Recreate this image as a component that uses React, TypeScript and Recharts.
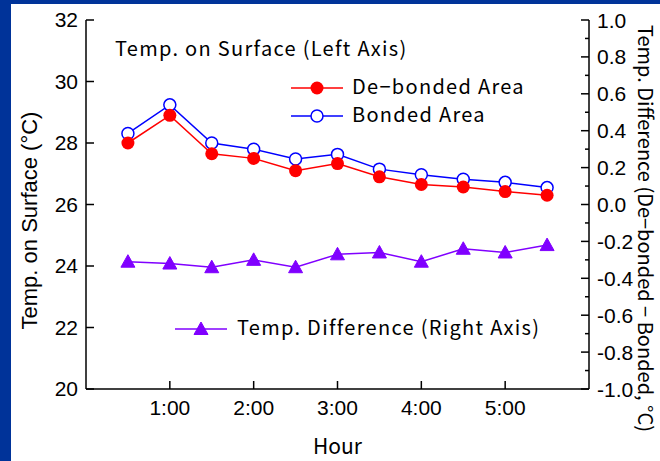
import React from "react"
import { ComposedChart, Line, XAxis, YAxis, Customized } from "recharts"

const hours = [0.5, 1, 1.5, 2, 2.5, 3, 3.5, 4, 4.5, 5, 5.5]
const debonded = [28.0, 28.9, 27.65, 27.5, 27.1, 27.33, 26.9, 26.65, 26.57, 26.42, 26.3]
const bonded = [28.31, 29.24, 28.0, 27.8, 27.48, 27.63, 27.15, 26.97, 26.82, 26.72, 26.55]
const tempDiff = [-0.31, -0.32, -0.34, -0.3, -0.34, -0.27, -0.26, -0.31, -0.24, -0.26, -0.22]

const hourTicks = [1, 2, 3, 4, 5]
const leftTicks = [20, 22, 24, 26, 28, 30, 32]
const rightTicks = [-1, -0.9, -0.8, -0.7, -0.6, -0.5, -0.4, -0.3, -0.2, -0.1, 0, 0.1, 0.2, 0.3, 0.4, 0.5, 0.6, 0.7, 0.8, 0.9, 1]

const RED = "#ff0000"
const BLUE = "#0000ff"
const PURPLE = "#8000ff"
const TICK_FONT = "'Liberation Sans', Arial, sans-serif"
const TEXT_FONT = "'Noto Sans CJK JP', 'Liberation Sans', sans-serif"

const data = hours.map((h, i) => ({
  hour: h,
  debonded: debonded[i],
  bonded: bonded[i],
  diff: tempDiff[i],
}))

const Triangle = ({ cx, cy }: any) => {
  if (cx == null || cy == null) return null
  return <polygon points={`${cx},${cy - 7} ${cx - 7},${cy + 5.5} ${cx + 7},${cy + 5.5}`} fill={PURPLE} stroke={PURPLE} />
}

// right axis: labels on even tenths, short minor ticks on odd ones
const RightTick = ({ x, y, payload }: any) => {
  const v = payload.value
  const major = Math.round(v * 10) % 2 === 0
  const ax = x - 8
  return (
    <g>
      <line x1={ax} x2={ax - (major ? 8 : 4)} y1={y} y2={y} stroke="#000" strokeWidth={1.5} />
      {major && (
        <text x={x} y={y} dy="0.36em" textAnchor="start" fontSize={21} fontFamily={TICK_FONT} fill="#000">
          {v.toFixed(1)}
        </text>
      )}
    </g>
  )
}

const LegendLayer = () => (
  <g fontFamily={TEXT_FONT} fontSize={20} fill="#000" letterSpacing={1.3}>
    <text x={104} y={45} dy="0.36em">Temp. on Surface (Left Axis)</text>
    <line x1={280} x2={332} y1={84} y2={84} stroke={RED} strokeWidth={1.5} />
    <circle cx={306} cy={84} r={6.5} fill={RED} />
    <text x={341} y={83} dy="0.36em">De−bonded Area</text>
    <line x1={280} x2={332} y1={112} y2={112} stroke={BLUE} strokeWidth={1.5} />
    <circle cx={306} cy={112} r={6} fill="#fff" stroke={BLUE} strokeWidth={1.5} />
    <text x={341} y={111} dy="0.36em">Bonded Area</text>
    <line x1={164} x2={216} y1={325} y2={325} stroke={PURPLE} strokeWidth={1.5} />
    <Triangle cx={190} cy={325} />
    <text x={226} y={324} dy="0.36em">Temp. Difference (Right Axis)</text>
  </g>
)

const axisStyle = { stroke: "#000", strokeWidth: 1.5 }
const tickStyle = { fontSize: 21, fontFamily: TICK_FONT, fill: "#000" }

export default function App() {
  return (
    <div style={{ position: "fixed", left: 0, top: 0, width: 660, height: 461, background: "#003399", overflow: "hidden" }}>
      <div style={{ position: "absolute", left: 11, top: 4, width: 649, height: 457, background: "#fff" }}>
        <ComposedChart width={649} height={457} data={data} margin={{ top: 16, right: 0, bottom: 0, left: 0 }}>
          <XAxis
            xAxisId="bottom"
            dataKey="hour"
            type="number"
            domain={[0, 6]}
            ticks={hourTicks}
            tickFormatter={(h) => `${h}:00`}
            height={72}
            axisLine={axisStyle}
            tickLine={axisStyle}
            tickSize={-8}
            tickMargin={19}
            tick={tickStyle}
            label={{ value: "Hour", position: "insideBottom", offset: 7, style: { fontSize: 21, fontFamily: TEXT_FONT, fill: "#000" } }}
          />
          <XAxis
            xAxisId="top"
            orientation="top"
            dataKey="hour"
            type="number"
            domain={[0, 6]}
            ticks={hourTicks}
            height={0}
            axisLine={axisStyle}
            tickLine={axisStyle}
            tickSize={-8}
            tick={false}
          />
          <YAxis
            yAxisId="left"
            domain={[20, 32]}
            ticks={leftTicks}
            width={75}
            axisLine={axisStyle}
            tickLine={axisStyle}
            tickSize={-8}
            tickMargin={16}
            tick={tickStyle}
            interval={0}
            label={{
              content: ({ viewBox }: any) => (
                <text
                  x={viewBox.x + 18}
                  y={viewBox.y + viewBox.height / 2 + 16}
                  transform={`rotate(-90, ${viewBox.x + 18}, ${viewBox.y + viewBox.height / 2 + 16})`}
                  textAnchor="middle"
                  dominantBaseline="central"
                  fontSize={22}
                  fontFamily={TICK_FONT}
                  fill="#000"
                >
                  Temp. on Surface (°C)
                </text>
              ),
            }}
          />
          <YAxis
            yAxisId="right"
            orientation="right"
            domain={[-1, 1]}
            ticks={rightTicks}
            width={71}
            axisLine={axisStyle}
            tickLine={false}
            tickSize={0}
            tickMargin={8}
            tick={<RightTick />}
            interval={0}
            label={{
              content: ({ viewBox }: any) => (
                <text
                  x={viewBox.x + 57}
                  y={viewBox.y + viewBox.height / 2 + 24}
                  transform={`rotate(90, ${viewBox.x + 57}, ${viewBox.y + viewBox.height / 2 + 24})`}
                  textAnchor="middle"
                  dominantBaseline="central"
                  fontSize={20}
                  fontFamily={TEXT_FONT}
                  fill="#000"
                >
                  Temp. Difference (De−bonded − Bonded, °C)
                </text>
              ),
            }}
          />
          <Line
            xAxisId="bottom"
            yAxisId="left"
            dataKey="bonded"
            stroke={BLUE}
            strokeWidth={1.5}
            dot={{ r: 6, fill: "#fff", stroke: BLUE, strokeWidth: 1.5 }}
            isAnimationActive={false}
          />
          <Line
            xAxisId="bottom"
            yAxisId="left"
            dataKey="debonded"
            stroke={RED}
            strokeWidth={1.5}
            dot={{ r: 6.5, fill: RED, stroke: RED, strokeWidth: 0 }}
            isAnimationActive={false}
          />
          <Line
            xAxisId="bottom"
            yAxisId="right"
            dataKey="diff"
            stroke={PURPLE}
            strokeWidth={1.5}
            dot={<Triangle />}
            isAnimationActive={false}
          />
          <Customized component={LegendLayer} />
        </ComposedChart>
      </div>
    </div>
  )
}
